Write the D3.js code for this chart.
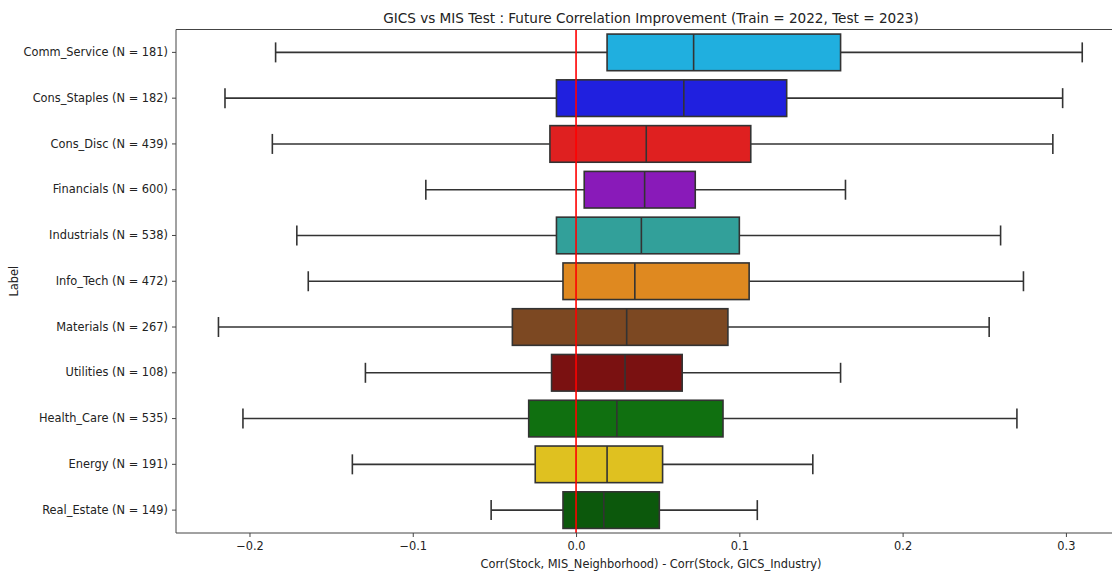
<!DOCTYPE html>
<html>
<head>
<meta charset="utf-8">
<script src="https://cdn.jsdelivr.net/npm/d3@7"></script>
<style>
  html, body { margin: 0; padding: 0; background: #fff; }
  svg { display: block; font-family: "DejaVu Sans", sans-serif; }
</style>
</head>
<body>
<svg id="chart" width="1112" height="571"></svg>
<script>
// Sector labels (top to bottom) and box statistics
const categories = [
  "Comm_Service (N = 181)", "Cons_Staples (N = 182)", "Cons_Disc (N = 439)",
  "Financials (N = 600)", "Industrials (N = 538)", "Info_Tech (N = 472)",
  "Materials (N = 267)", "Utilities (N = 108)", "Health_Care (N = 535)",
  "Energy (N = 191)", "Real_Estate (N = 149)"
];
const whiskerLow  = [-0.184, -0.215, -0.186, -0.092, -0.171, -0.164, -0.219, -0.129, -0.204, -0.137, -0.052];
const q1          = [ 0.019, -0.012, -0.016,  0.005, -0.012, -0.008, -0.039, -0.015, -0.029, -0.025, -0.008];
const median      = [ 0.072,  0.066,  0.043,  0.042,  0.040,  0.036,  0.031,  0.030,  0.025,  0.019,  0.017];
const q3          = [ 0.162,  0.129,  0.107,  0.073,  0.100,  0.106,  0.093,  0.065,  0.090,  0.053,  0.051];
const whiskerHigh = [ 0.310,  0.298,  0.292,  0.165,  0.260,  0.274,  0.253,  0.162,  0.270,  0.145,  0.111];
const boxColors = ["#20afdf", "#2020df", "#df2020", "#891ab9", "#32a09a", "#df8920",
                   "#7c4822", "#7a1111", "#107010", "#dfc120", "#0c580c"];
const xTicks = [-0.2, -0.1, 0.0, 0.1, 0.2, 0.3];
const refLine = 0;

const titleText = "GICS vs MIS Test : Future Correlation Improvement (Train = 2022, Test = 2023)";
const xLabelText = "Corr(Stock, MIS_Neighborhood) - Corr(Stock, GICS_Industry)";
const yLabelText = "Label";

const svg = d3.select("#chart");
const margin = { left: 176, right: -14, top: 29.5, bottom: 38 };
const W = 1112, H = 571;
const plotW = W - margin.left - margin.right;
const plotH = H - margin.top - margin.bottom;

const x = d3.scaleLinear().domain([-0.245, 0.3368]).range([margin.left, margin.left + plotW]);
const y = d3.scaleBand().domain(categories).range([margin.top, margin.top + plotH]).paddingInner(0).paddingOuter(0);

const edge = "#333333";
const boxH = y.bandwidth() * 0.8;
const capH = 20;

const g = svg.append("g");

const rows = categories.map((c, i) => ({
  c, lo: whiskerLow[i], q1: q1[i], med: median[i], q3: q3[i], hi: whiskerHigh[i], color: boxColors[i]
}));

const row = g.selectAll("g.row").data(rows).join("g").attr("class", "row")
  .attr("transform", d => `translate(0,${y(d.c) + y.bandwidth() / 2})`);

// whiskers
row.append("line").attr("x1", d => x(d.lo)).attr("x2", d => x(d.q1)).attr("y1", 0).attr("y2", 0)
  .attr("stroke", edge).attr("stroke-width", 1.6);
row.append("line").attr("x1", d => x(d.q3)).attr("x2", d => x(d.hi)).attr("y1", 0).attr("y2", 0)
  .attr("stroke", edge).attr("stroke-width", 1.6);
// caps
row.append("line").attr("x1", d => x(d.lo)).attr("x2", d => x(d.lo)).attr("y1", -capH / 2).attr("y2", capH / 2)
  .attr("stroke", edge).attr("stroke-width", 1.6);
row.append("line").attr("x1", d => x(d.hi)).attr("x2", d => x(d.hi)).attr("y1", -capH / 2).attr("y2", capH / 2)
  .attr("stroke", edge).attr("stroke-width", 1.6);
// boxes
row.append("rect").attr("x", d => x(d.q1)).attr("width", d => x(d.q3) - x(d.q1))
  .attr("y", -boxH / 2).attr("height", boxH)
  .attr("fill", d => d.color).attr("stroke", edge).attr("stroke-width", 1.6);
// medians
row.append("line").attr("x1", d => x(d.med)).attr("x2", d => x(d.med)).attr("y1", -boxH / 2).attr("y2", boxH / 2)
  .attr("stroke", edge).attr("stroke-width", 1.6);

// zero reference line
g.append("line").attr("x1", x(refLine)).attr("x2", x(refLine))
  .attr("y1", margin.top).attr("y2", margin.top + plotH)
  .attr("stroke", "#ff0000").attr("stroke-width", 1.6);

// spines (left, top, bottom)
const spine = "#444";
g.append("line").attr("x1", margin.left).attr("x2", margin.left).attr("y1", margin.top).attr("y2", margin.top + plotH)
  .attr("stroke", spine).attr("stroke-width", 1);
g.append("line").attr("x1", margin.left).attr("x2", W).attr("y1", margin.top).attr("y2", margin.top)
  .attr("stroke", spine).attr("stroke-width", 1);
g.append("line").attr("x1", margin.left).attr("x2", W).attr("y1", margin.top + plotH).attr("y2", margin.top + plotH)
  .attr("stroke", spine).attr("stroke-width", 1);

// axes
const xAxis = d3.axisBottom(x).tickValues(xTicks).tickSize(4).tickPadding(5)
  .tickFormat(d => d3.format(".1f")(d).replace("-", "\u2212"));
const xg = svg.append("g").attr("transform", `translate(0,${margin.top + plotH})`).call(xAxis);
xg.select(".domain").remove();
xg.selectAll("text").attr("font-size", 11.4).attr("fill", "#222").attr("font-family", "DejaVu Sans");
xg.selectAll("line").attr("stroke", "#444");

const yAxis = d3.axisLeft(y).tickSize(4).tickPadding(4);
const yg = svg.append("g").attr("transform", `translate(${margin.left},0)`).call(yAxis);
yg.select(".domain").remove();
yg.selectAll("text").attr("font-size", 11.4).attr("fill", "#222").attr("font-family", "DejaVu Sans");
yg.selectAll("line").attr("stroke", "#444");

// titles
const axCenter = margin.left + plotW / 2;
svg.append("text").attr("x", axCenter).attr("y", 23).attr("text-anchor", "middle")
  .attr("font-size", 13.6).attr("fill", "#222").text(titleText);
svg.append("text").attr("x", axCenter).attr("y", 568).attr("text-anchor", "middle")
  .attr("font-size", 11.4).attr("fill", "#222").text(xLabelText);
svg.append("text").attr("transform", `translate(18,${margin.top + plotH / 2}) rotate(-90)`)
  .attr("text-anchor", "middle").attr("font-size", 11.4).attr("fill", "#222").text(yLabelText);
</script>
</body>
</html>
